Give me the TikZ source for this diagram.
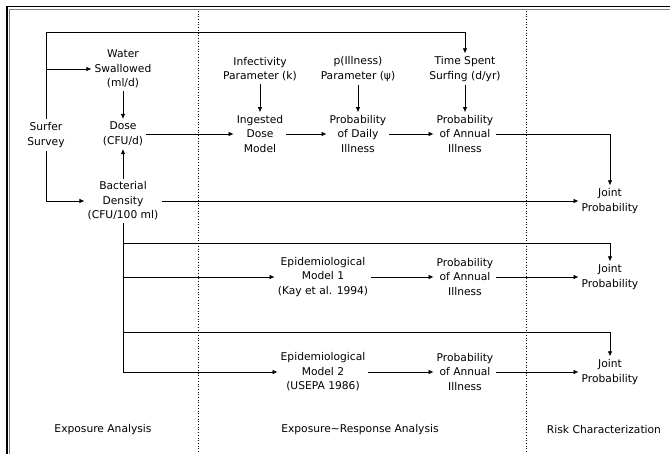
\documentclass[tikz,border=0pt]{standalone}
\usepackage{fontspec}
\setmainfont{DejaVu Sans}
\usetikzlibrary{arrows.meta}
\begin{document}
\begin{tikzpicture}[x=1pt,y=-1pt,
	every node/.style = {align=center, inner sep=3pt,
		font=\fontsize{10.7}{14.5}\selectfont},
	flow/.style = {line width=0.7pt, -{Latex[length=5pt,width=4.5pt]}},
	zone/.style = {line width=0.7pt, dotted}]
	\useasboundingbox (0,0) rectangle (670,454);
	\draw[line width=1.6pt] (7,454) -- (7,6.5) -- (670,6.5);
	\draw[gray, line width=1pt] (9.6,454) -- (9.6,9.6) -- (670,9.6);
	\draw[zone] (198,11) -- (198,454);
	\draw[zone] (526,11) -- (526,454);
	\node (survey) at (46,135) {Surfer\\Survey};
	\node (water) at (123,69) {Water\\Swallowed\\(ml/d)};
	\node (dose) at (123,134) {Dose\\(CFU/d)};
	\node (bact) at (123,201) {Bacterial\\Density\\(CFU/100 ml)};
	\node (infect) at (260,69) {Infectivity\\Parameter (k)};
	\node (ingest) at (260,134) {Ingested\\Dose\\Model};
	\node (pill) at (358,69) {p(Illness)\\Parameter (ψ)};
	\node (daily) at (358,134) {Probability\\of Daily\\Illness};
	\node (time) at (465,69) {Time Spent\\Surfing (d/yr)};
	\node (annual) at (465,134) {Probability\\of Annual\\Illness};
	\node (joint1) at (610,201) {Joint\\Probability};
	\node (epi1) at (323,277) {Epidemiological\\Model 1\\(Kay et al. 1994)};
	\node (annual1) at (465,277) {Probability\\of Annual\\Illness};
	\node (joint2) at (610,277) {Joint\\Probability};
	\node (epi2) at (323,372) {Epidemiological\\Model 2\\(USEPA 1986)};
	\node (annual2) at (465,372) {Probability\\of Annual\\Illness};
	\node (joint3) at (610,372) {Joint\\Probability};
	\node (expo) at (103,430) {Exposure Analysis};
	\node (resp) at (360,430) {Exposure\textasciitilde Response Analysis};
	\node (risk) at (604,430) {Risk Characterization};
	\coordinate (ctop) at (46,32);
	\coordinate (br1) at (123,243);
	\coordinate (br2) at (123,332);
	\draw[flow] (survey) -- (ctop) -| (time);
	\draw[flow] (survey |- water) -- (water);
	\draw[flow] (survey) |- (bact);
	\draw[flow] (water) -- (dose);
	\draw[flow] (bact) -- (dose);
	\draw[flow] (dose) -- (ingest);
	\draw[flow] (infect) -- (ingest);
	\draw[flow] (ingest) -- (daily);
	\draw[flow] (pill) -- (daily);
	\draw[flow] (daily) -- (annual);
	\draw[flow] (time) -- (annual);
	\draw[flow] (annual) -| (joint1);
	\draw[flow] (bact) -- (joint1);
	\draw[flow] (bact) |- (epi2);
	\draw[flow] (bact |- epi1) -- (epi1);
	\draw[flow] (br1) -| (joint2);
	\draw[flow] (br2) -| (joint3);
	\draw[flow] (epi1) -- (annual1);
	\draw[flow] (annual1) -- (joint2);
	\draw[flow] (epi2) -- (annual2);
	\draw[flow] (annual2) -- (joint3);
\end{tikzpicture}
\end{document}
